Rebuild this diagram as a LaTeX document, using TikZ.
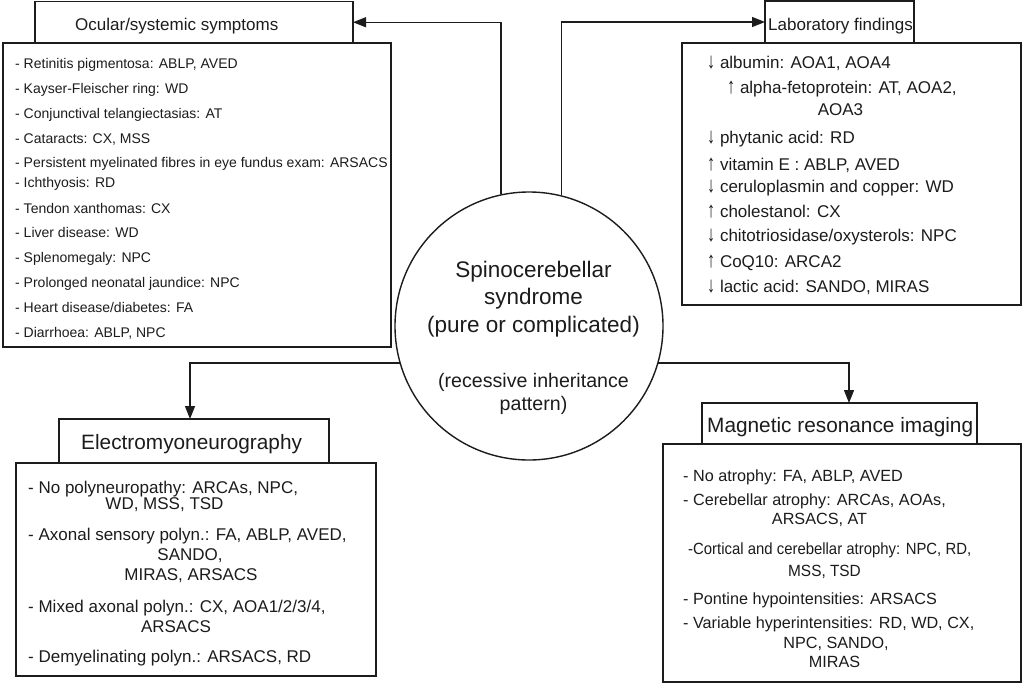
\documentclass[tikz,border=0pt]{standalone}
\usepackage{fontspec}
\setmainfont{Liberation Sans}
\usetikzlibrary{arrows.meta}
\definecolor{ink}{RGB}{28,28,28}
\newcommand{\fs}[1]{\fontsize{#1}{#1}\selectfont}
\newcommand{\dnarr}{\scalebox{0.95}[1.3]{↓}}
\newcommand{\uparr}{\scalebox{0.95}[1.3]{↑}}
\tikzset{
  boxshape/.style={draw=ink, line width=1.4pt, rectangle, inner sep=0pt, outer sep=0pt},
  ocl/.style={inner sep=0pt, anchor=base west, text=ink, font=\fs{14}},
  labl/.style={inner sep=0pt, anchor=base west, text=ink, font=\fs{17}},
  emgl/.style={inner sep=0pt, anchor=base west, text=ink, font=\fs{17}},
  mril/.style={inner sep=0pt, anchor=base west, text=ink, font=\fs{16.2}},
  ttl/.style={inner sep=0pt, anchor=base west, text=ink},
  ctr/.style={inner sep=0pt, anchor=base, text=ink},
  conn/.style={draw=ink, line width=1.4pt},
  arr/.style={conn, -{Triangle[length=13pt,width=10pt]}},
}
\begin{document}
\begin{tikzpicture}[x=1pt,y=-1pt]
\useasboundingbox (0,0) rectangle (1024,683);
\fill[white] (0,0) rectangle (1024,683);

% central circle
\node[draw=ink, line width=1.4pt, circle, minimum size=268pt, inner sep=0pt] (circ) at (529,326) {};
\node[ctr, font=\fs{22.5}] (c1) at (533.5,277) {Spinocerebellar};
\node[ctr, font=\fs{22.5}] (c2) at (533.5,304) {syndrome};
\node[ctr, font=\fs{22.5}] (c3) at (533.5,332) {(pure or complicated)};
\node[ctr, font=\fs{19.6}] (c4) at (533.5,387) {(recessive inheritance};
\node[ctr, font=\fs{19.6}] (c5) at (533.5,410) {pattern)};

% Ocular/systemic symptoms
\node[boxshape, minimum width=318pt, minimum height=41.5pt] (ocT) at (194,22.25) {};
\node[ttl, font=\fs{17}] (ocTt) at (75,30) {Ocular/systemic symptoms};
\node[boxshape, minimum width=388pt, minimum height=304pt] (ocL) at (197,195) {};
\node[ocl] (oc1) at (15,68) {- Retinitis pigmentosa: ABLP, AVED};
\node[ocl] (oc2) at (15,93) {- Kayser-Fleischer ring: WD};
\node[ocl] (oc3) at (15,118.5) {- Conjunctival telangiectasias: AT};
\node[ocl] (oc4) at (15,143) {- Cataracts: CX, MSS};
\node[ocl] (oc5) at (15,167) {- Persistent myelinated fibres in eye fundus exam: ARSACS};
\node[ocl] (oc6) at (15,187) {- Ichthyosis: RD};
\node[ocl] (oc7) at (15,213) {- Tendon xanthomas: CX};
\node[ocl] (oc8) at (15,237.5) {- Liver disease: WD};
\node[ocl] (oc9) at (15,262) {- Splenomegaly: NPC};
\node[ocl] (oc10) at (15,287) {- Prolonged neonatal jaundice: NPC};
\node[ocl] (oc11) at (15,312) {- Heart disease/diabetes: FA};
\node[ocl] (oc12) at (15,337.5) {- Diarrhoea: ABLP, NPC};

% Laboratory findings
\node[boxshape, minimum width=149pt, minimum height=42pt] (labT) at (839.5,22) {};
\node[ttl, font=\fs{17}] (labTt) at (768,30) {Laboratory findings};
\node[boxshape, minimum width=339pt, minimum height=262pt] (labL) at (851.5,174) {};
\node[labl] (lab1) at (707,68) {\dnarr\ albumin: AOA1, AOA4};
\node[labl] (lab2) at (727,93) {\uparr\ alpha-fetoprotein: AT, AOA2,};
\node[ctr, font=\fs{17}] (lab2b) at (840.5,115) {AOA3};
\node[labl] (lab3) at (707,143) {\dnarr\ phytanic acid: RD};
\node[labl] (lab4) at (707,170) {\uparr\ vitamin E : ABLP, AVED};
\node[labl] (lab5) at (707,192) {\dnarr\ ceruloplasmin and copper: WD};
\node[labl] (lab6) at (707,217) {\uparr\ cholestanol: CX};
\node[labl] (lab7) at (707,241) {\dnarr\ chitotriosidase/oxysterols: NPC};
\node[labl] (lab8) at (707,267) {\uparr\ CoQ10: ARCA2};
\node[labl] (lab9) at (707,292) {\dnarr\ lactic acid: SANDO, MIRAS};

% Electromyoneurography
\node[boxshape, minimum width=270pt, minimum height=44pt] (emgT) at (194,441) {};
\node[ttl, font=\fs{20.8}] (emgTt) at (81,449.5) {Electromyoneurography};
\node[boxshape, minimum width=360pt, minimum height=213pt] (emgL) at (196,569.5) {};
\node[emgl] (emg1) at (28,493) {- No polyneuropathy: ARCAs, NPC,};
\node[ctr, font=\fs{17}] (emg1b) at (164.5,509) {WD, MSS, TSD};
\node[emgl] (emg2) at (28,540) {- Axonal sensory polyn.: FA, ABLP, AVED,};
\node[ctr, font=\fs{17}] (emg2b) at (190,560) {SANDO,};
\node[ctr, font=\fs{17}] (emg2c) at (191,580) {MIRAS, ARSACS};
\node[emgl] (emg3) at (28,612) {- Mixed axonal polyn.: CX, AOA1/2/3/4,};
\node[ctr, font=\fs{17}] (emg3b) at (176,632) {ARSACS};
\node[emgl] (emg4) at (28,662) {- Demyelinating polyn.: ARSACS, RD};

% Magnetic resonance imaging
\node[boxshape, minimum width=275pt, minimum height=41pt] (mriT) at (839.5,423.5) {};
\node[ttl, font=\fs{20.8}] (mriTt) at (707,432) {Magnetic resonance imaging};
\node[boxshape, minimum width=358pt, minimum height=238pt] (mriL) at (842,563) {};
\node[mril] (mri1) at (683,481) {- No atrophy: FA, ABLP, AVED};
\node[mril] (mri2) at (683,505) {- Cerebellar atrophy: ARCAs, AOAs,};
\node[ctr, font=\fs{16.2}] (mri2b) at (819.5,524) {ARSACS, AT};
\node[mril] (mri3) at (688,554) {\scalebox{0.92}[1]{-Cortical and cerebellar atrophy: NPC, RD,}};
\node[ctr, font=\fs{16.2}] (mri3b) at (824.5,576) {\scalebox{0.95}[1]{MSS, TSD}};
\node[mril] (mri4) at (683,604) {- Pontine hypointensities: ARSACS};
\node[mril] (mri5) at (683,628) {- Variable hyperintensities: RD, WD, CX,};
\node[ctr, font=\fs{16.2}] (mri5b) at (836,648) {NPC, SANDO,};
\node[ctr, font=\fs{16.2}] (mri5c) at (834.5,667) {MIRAS};

% connectors
\coordinate (emgIn) at (190,419);
\coordinate (mriIn) at (849,403);
\draw[arr] (circ.102.5) |- (ocT.east);
\draw[arr] (circ.76.2) |- (labT.west);
\draw[arr] (circ.196) -| (emgIn);
\draw[arr] (circ.344) -| (mriIn);
\end{tikzpicture}
\end{document}
